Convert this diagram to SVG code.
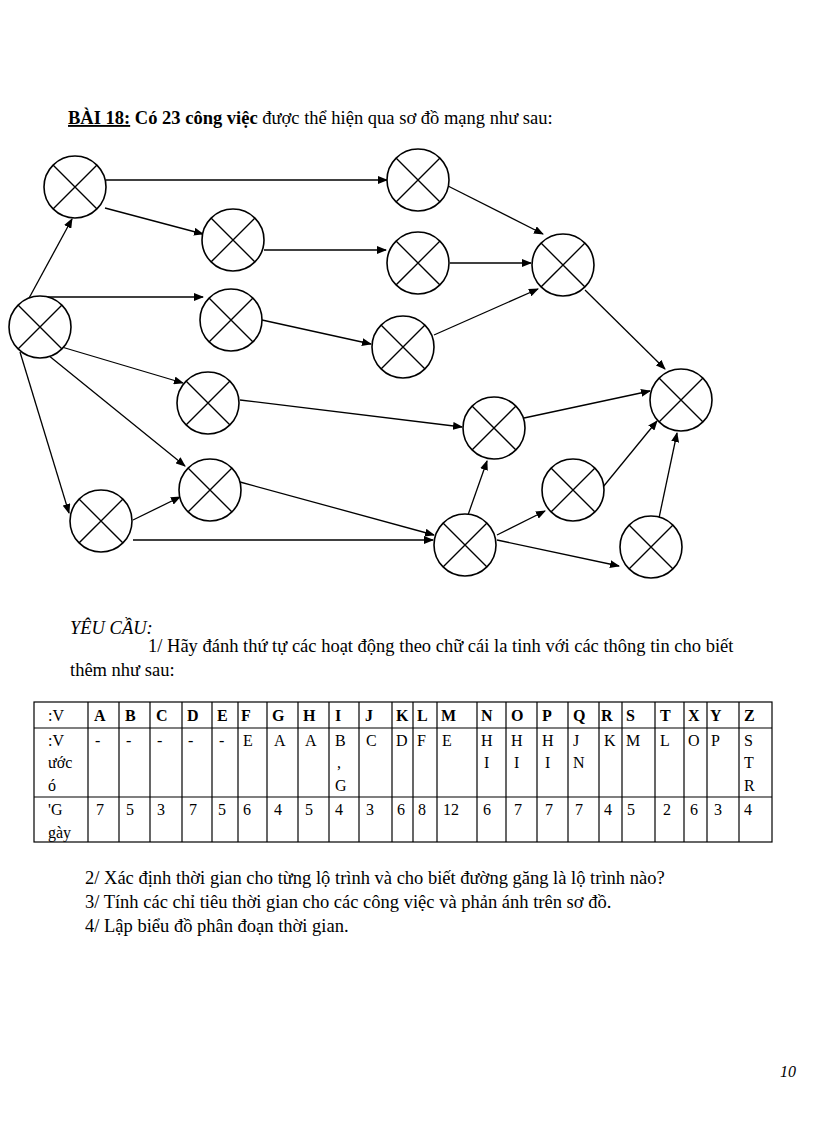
<svg xmlns="http://www.w3.org/2000/svg" width="816" height="1123" viewBox="0 0 816 1123">
<defs>
<marker id="ar" markerWidth="10" markerHeight="8" refX="9" refY="4" orient="auto" markerUnits="userSpaceOnUse"><path d="M0,0 L10,4 L0,8 z" fill="#000"/></marker>
<g id="nd"><circle r="31" fill="#fff" stroke="#000" stroke-width="1.6"/><path d="M-22,-22 L22,22 M22,-22 L-22,22" stroke="#000" stroke-width="1.4"/></g>
</defs>
<style>
text{font-family:"Liberation Serif","Times New Roman",serif;font-size:16px;fill:#000}
.p{font-size:18.5px}
.c line{stroke:#000;stroke-width:1.3;marker-end:url(#ar)}
.t line{stroke:#000;stroke-width:1.2}
.b{font-weight:bold}
</style>
<rect width="816" height="1123" fill="#fff"/>
<text class="p" x="68" y="124"><tspan class="b" text-decoration="underline">BÀI 18:</tspan><tspan class="b"> Có 23 công việc</tspan> được thể hiện qua sơ đồ mạng như sau:</text>
<g class="c" id="connectors">
<line x1="106" y1="180" x2="387" y2="180"/>
<line x1="105" y1="208" x2="203" y2="234"/>
<line x1="264" y1="250" x2="386" y2="250"/>
<line x1="448" y1="186" x2="543" y2="234"/>
<line x1="450" y1="263" x2="531" y2="263"/>
<line x1="434" y1="335" x2="538" y2="289"/>
<line x1="28" y1="300" x2="72" y2="219"/>
<line x1="45" y1="297" x2="203" y2="297"/>
<line x1="262" y1="320" x2="371" y2="344"/>
<line x1="585" y1="290" x2="665" y2="369"/>
<line x1="55" y1="345" x2="183" y2="383"/>
<line x1="240" y1="400" x2="462" y2="427"/>
<line x1="524" y1="418" x2="650" y2="391"/>
<line x1="48" y1="355" x2="185" y2="466"/>
<line x1="20" y1="352" x2="69" y2="513"/>
<line x1="133" y1="520" x2="180" y2="497"/>
<line x1="133" y1="540" x2="433" y2="540"/>
<line x1="240" y1="482" x2="434" y2="535"/>
<line x1="468" y1="515" x2="487" y2="461"/>
<line x1="497" y1="535" x2="545" y2="511"/>
<line x1="603" y1="487" x2="657" y2="421"/>
<line x1="497" y1="540" x2="619" y2="566"/>
<line x1="659" y1="518" x2="677" y2="433"/>
</g>
<g id="n1"><use href="#nd" x="75" y="187"/></g>
<g id="n2"><use href="#nd" x="418" y="180"/></g>
<g id="n3"><use href="#nd" x="233" y="240"/></g>
<g id="n4"><use href="#nd" x="418" y="263"/></g>
<g id="n5"><use href="#nd" x="563" y="265"/></g>
<g id="n6"><use href="#nd" x="231" y="320"/></g>
<g id="n7"><use href="#nd" x="403" y="347"/></g>
<g id="n8"><use href="#nd" x="40" y="327"/></g>
<g id="n9"><use href="#nd" x="208" y="403"/></g>
<g id="n10"><use href="#nd" x="681" y="400"/></g>
<g id="n11"><use href="#nd" x="494" y="428"/></g>
<g id="n12"><use href="#nd" x="210" y="490"/></g>
<g id="n13"><use href="#nd" x="573" y="490"/></g>
<g id="n14"><use href="#nd" x="101" y="521"/></g>
<g id="n15"><use href="#nd" x="465" y="545"/></g>
<g id="n16"><use href="#nd" x="651" y="547"/></g>
<text class="p" x="70" y="634" font-style="italic">YÊU CẦU:</text>
<text class="p" x="148" y="652">1/ Hãy đánh thứ tự các hoạt động theo chữ cái la tinh với các thông tin cho biết</text>
<text class="p" x="70" y="676">thêm như sau:</text>
<g class="t" id="table">
<rect x="34" y="702" width="738" height="140" fill="none" stroke="#000" stroke-width="1.2"/>
<line x1="34" y1="728" x2="772" y2="728"/><line x1="34" y1="797" x2="772" y2="797"/>
<line x1="88" y1="702" x2="88" y2="842"/><line x1="119" y1="702" x2="119" y2="842"/><line x1="150" y1="702" x2="150" y2="842"/><line x1="182" y1="702" x2="182" y2="842"/><line x1="212" y1="702" x2="212" y2="842"/><line x1="238" y1="702" x2="238" y2="842"/><line x1="267" y1="702" x2="267" y2="842"/><line x1="298" y1="702" x2="298" y2="842"/><line x1="329" y1="702" x2="329" y2="842"/><line x1="359" y1="702" x2="359" y2="842"/><line x1="392" y1="702" x2="392" y2="842"/><line x1="413" y1="702" x2="413" y2="842"/><line x1="437" y1="702" x2="437" y2="842"/><line x1="477" y1="702" x2="477" y2="842"/><line x1="506" y1="702" x2="506" y2="842"/><line x1="537" y1="702" x2="537" y2="842"/><line x1="568" y1="702" x2="568" y2="842"/><line x1="599" y1="702" x2="599" y2="842"/><line x1="622" y1="702" x2="622" y2="842"/><line x1="655" y1="702" x2="655" y2="842"/><line x1="684" y1="702" x2="684" y2="842"/><line x1="707" y1="702" x2="707" y2="842"/><line x1="739" y1="702" x2="739" y2="842"/>
</g>
<g id="cells">
<text x="48" y="721">:V</text>
<text class="b" y="721"><tspan x="94">A</tspan><tspan x="125">B</tspan><tspan x="156">C</tspan><tspan x="187">D</tspan><tspan x="217">E</tspan><tspan x="241">F</tspan><tspan x="272">G</tspan><tspan x="303">H</tspan><tspan x="335">I</tspan><tspan x="365">J</tspan><tspan x="396">K</tspan><tspan x="417">L</tspan><tspan x="441">M</tspan><tspan x="481">N</tspan><tspan x="511">O</tspan><tspan x="542">P</tspan><tspan x="573">Q</tspan><tspan x="601">R</tspan><tspan x="626">S</tspan><tspan x="660">T</tspan><tspan x="688">X</tspan><tspan x="710">Y</tspan><tspan x="744">Z</tspan></text>
<text x="48" y="746">:V</text><text x="48" y="768">ước</text><text x="48" y="791">ó</text>
<text y="746"><tspan x="95">-</tspan><tspan x="126">-</tspan><tspan x="157">-</tspan><tspan x="188">-</tspan><tspan x="219">-</tspan><tspan x="243">E</tspan><tspan x="274">A</tspan><tspan x="305">A</tspan><tspan x="335">B</tspan><tspan x="366">C</tspan><tspan x="396">D</tspan><tspan x="417">F</tspan><tspan x="442">E</tspan><tspan x="481">H</tspan><tspan x="511">H</tspan><tspan x="542">H</tspan><tspan x="573">J</tspan><tspan x="604">K</tspan><tspan x="626">M</tspan><tspan x="660">L</tspan><tspan x="688">O</tspan><tspan x="711">P</tspan><tspan x="744">S</tspan></text>
<text y="768"><tspan x="337">,</tspan><tspan x="484">I</tspan><tspan x="514">I</tspan><tspan x="545">I</tspan><tspan x="573">N</tspan><tspan x="744">T</tspan></text>
<text y="791"><tspan x="335">G</tspan><tspan x="744">R</tspan></text>
<text x="48" y="815">'G</text><text x="48" y="838">gày</text>
<text y="815"><tspan x="96">7</tspan><tspan x="126">5</tspan><tspan x="157">3</tspan><tspan x="189">7</tspan><tspan x="218">5</tspan><tspan x="243">6</tspan><tspan x="274">4</tspan><tspan x="305">5</tspan><tspan x="335">4</tspan><tspan x="366">3</tspan><tspan x="397">6</tspan><tspan x="418">8</tspan><tspan x="443">12</tspan><tspan x="483">6</tspan><tspan x="514">7</tspan><tspan x="545">7</tspan><tspan x="575">7</tspan><tspan x="604">4</tspan><tspan x="627">5</tspan><tspan x="663">2</tspan><tspan x="690">6</tspan><tspan x="714">3</tspan><tspan x="744">4</tspan></text>
</g>
<text class="p" x="85" y="884">2/ Xác định thời gian cho từng lộ trình và cho biết đường găng là lộ trình nào?</text>
<text class="p" x="85" y="908">3/ Tính các chỉ tiêu thời gian cho các công việc và phản ánh trên sơ đồ.</text>
<text class="p" x="85" y="932">4/ Lập biểu đồ phân đoạn thời gian.</text>
<text x="780" y="1077" font-style="italic" fill="#555">10</text>
</svg>
